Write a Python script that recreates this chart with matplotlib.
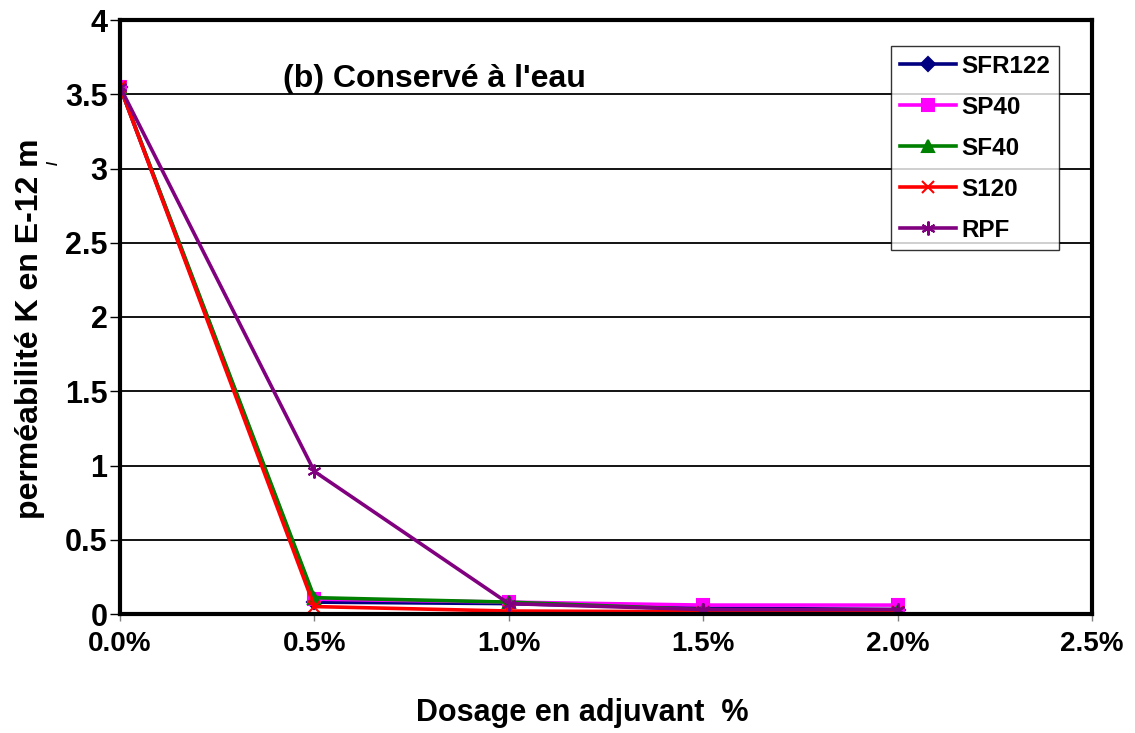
import numpy as np
import matplotlib.pyplot as plt
from matplotlib.ticker import FuncFormatter

plt.rcParams['font.family'] = ['Liberation Sans', 'DejaVu Sans']
plt.rcParams['font.weight'] = 'bold'

# Data
dosage = [0.0, 0.5, 1.0, 1.5, 2.0]
sfr122 = [3.55, 0.08, 0.07, 0.04, 0.03]
sp40 = [3.55, 0.10, 0.08, 0.06, 0.06]
sf40 = [3.55, 0.11, 0.08, 0.03, 0.02]
s120 = [3.55, 0.05, 0.02, 0.015, 0.012]
rpf = [3.55, 0.96, 0.07, 0.03, 0.03]

series = [
    ("SFR122", sfr122, "#000080", "D", 7),
    ("SP40", sp40, "#FF00FF", "s", 8),
    ("SF40", sf40, "#008000", "^", 8),
    ("S120", s120, "#FF0000", "x", 9),
    ("RPF", rpf, "#800080", (6, 2, 0), 10),
]

fig = plt.figure(figsize=(11.35, 7.33), dpi=100)
ax = fig.add_axes([120 / 1135, 1 - 614 / 733, (1092 - 120) / 1135, (614 - 20) / 733])

for name, vals, col, mk, ms in series:
    ax.plot(dosage, vals, color=col, lw=2.6, marker=mk, markersize=ms,
            markeredgewidth=1.5, label=name)

ax.set_xlim(0, 2.5)
ax.set_ylim(0, 4)
ax.set_xticks(np.arange(0, 2.51, 0.5))
ax.set_yticks(np.arange(0, 4.01, 0.5))
ax.xaxis.set_major_formatter(FuncFormatter(lambda v, p: "%.1f%%" % v))
ax.yaxis.set_major_formatter(FuncFormatter(lambda v, p: "%g" % v))
ax.yaxis.grid(True, color="black", lw=1.3)
ax.set_axisbelow(True)

for sp in ax.spines.values():
    sp.set_linewidth(3)
ax.tick_params(axis="x", direction="out", length=5, width=1, color="grey",
               labelsize=20, pad=7)
ax.tick_params(axis="y", direction="out", length=7, width=1,
               labelsize=22, pad=2)
for lab in ax.get_xticklabels() + ax.get_yticklabels():
    lab.set_fontweight("bold")
# lift the "0" label a little so it clears "0.0%"
ax.get_yticklabels()[0].set_va("center_baseline")

ax.set_xlabel("Dosage en adjuvant  %", fontsize=22, fontweight="bold")
ax.xaxis.set_label_coords((582 - 120) / 972, -(713 - 614) / 594)
ax.xaxis.label.set_va("center")
ax.set_ylabel("perméabilité K en E-12 m", fontsize=23, fontweight="bold")
ax.yaxis.set_label_coords(-(120 - 30) / 972, (614 - 329) / 594)
ax.yaxis.label.set_va("center")
fig.text(54 / 1135, 1 - 163 / 733, "/", fontsize=11, fontweight="bold",
         rotation=90, ha="center", va="center")

ax.text(0.168, 0.9, "(b) Conservé à l'eau", transform=ax.transAxes,
        fontsize=23, fontweight="bold", ha="left", va="center")

leg = ax.legend(loc="upper left", bbox_to_anchor=((891 - 120) / 972, 1 - 26 / 594),
                prop={"size": 17.5, "weight": "bold"}, frameon=True, fancybox=False,
                edgecolor="black", handlelength=2.3, labelspacing=0.74,
                borderpad=0.36, handletextpad=0.24, borderaxespad=0)
leg.get_frame().set_linewidth(1)

fig.savefig("out.png", dpi=100)
